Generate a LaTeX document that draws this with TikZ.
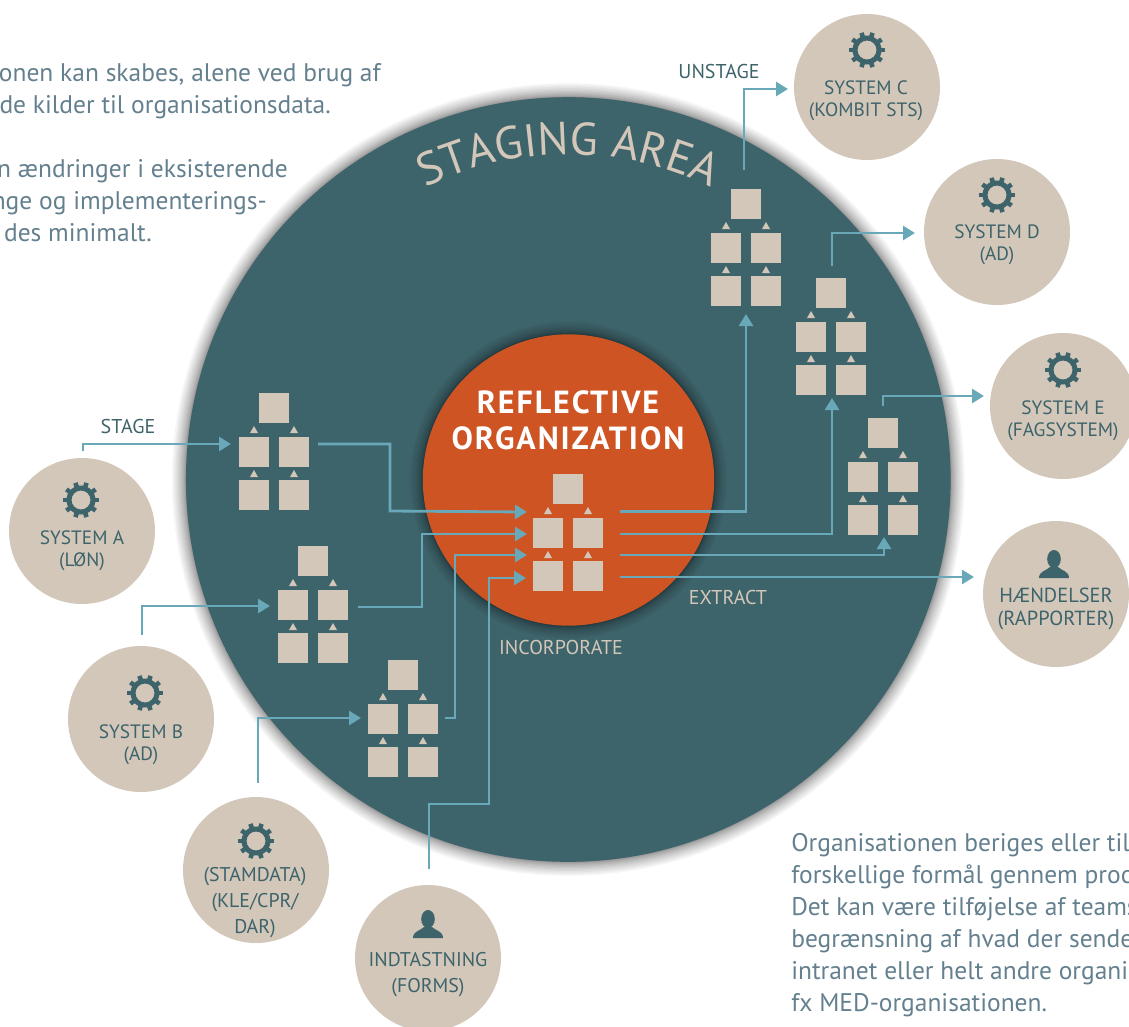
\documentclass[tikz,border=0pt]{standalone}
\usepackage{fontspec}
\setmainfont{PT Sans}
\usetikzlibrary{arrows.meta,decorations.text}
\definecolor{stagecol}{HTML}{3D636B}
\definecolor{orgcol}{HTML}{CE5423}
\definecolor{sandcol}{HTML}{D3C7B9}
\definecolor{flowcol}{HTML}{69A8B8}
\definecolor{bodycol}{HTML}{64808F}
\tikzset{
  box node/.style={rectangle,fill=sandcol,minimum size=22.5pt,inner sep=0pt},
  sys node/.style={circle,fill=sandcol,minimum size=109.5pt,inner sep=0pt},
  sys text/.style={align=center,text=stagecol,font=\fontsize{14.5}{16.5}\selectfont},
  big text/.style={align=center,text=stagecol,font=\fontsize{14.9}{19.5}\selectfont},
  flow label/.style={font=\fontsize{15}{17}\selectfont},
  body text/.style={text=bodycol,inner sep=0pt,font=\fontsize{19.1}{24}\selectfont},
  flow/.style={draw=flowcol,line width=2.1pt,-{Triangle[length=9pt,width=10.5pt]}},
  orgtree/.pic={
    \node[box node] (-top) at (0,0) {};
    \node[box node] (-a) at (-20,44) {};
    \node[box node] (-b) at (20,44) {};
    \node[box node] (-c) at (-20,87) {};
    \node[box node] (-d) at (20,87) {};
    \foreach \tx in {-20,20} \foreach \ty in {18,62}
      \fill[sandcol] (\tx,\ty) -- ++(4,7) -- ++(-8,0) -- cycle;
  },
  gear/.pic={
    \fill[stagecol,even odd rule] (0,0) circle[radius=14.5] (0,0) circle[radius=9.5];
    \foreach \ga in {0,36,...,324}
      \draw[stagecol,line width=3.4pt] (\ga:12) -- (\ga:18);
  },
  person/.pic={
    \fill[stagecol] (0,-9) ellipse[x radius=6.8,y radius=9];
    \fill[stagecol] (-15,10) .. controls (-15,3) and (-8,3) .. (-4,-1) -- (4,-1)
      .. controls (8,3) and (15,3) .. (15,10) -- cycle;
  }
}

\begin{document}
\begin{tikzpicture}[x=0.75pt,y=-0.75pt]
  \useasboundingbox (0,0) rectangle (1129,1026);

  % left and right texts, cut by the page
  \node[body text,anchor=base east] (textl1) at (381,81) {onen kan skabes, alene ved brug af};
  \node[body text,anchor=base east] (textl2) at (331,113) {de kilder til organisationsdata.};
  \node[body text,anchor=base east] (textl3) at (288,177) {n ændringer i eksisterende};
  \node[body text,anchor=base east] (textl4) at (267,209) {nge og implementerings-};
  \node[body text,anchor=base east] (textl5) at (152,241) {des minimalt.};

  \node[body text,anchor=base west] (textr1) at (791,851) {Organisationen beriges eller til};
  \node[body text,anchor=base west] (textr2) at (791,883) {forskellige formål gennem proc};
  \node[body text,anchor=base west] (textr3) at (791,915) {Det kan være tilføjelse af teams};
  \node[body text,anchor=base west] (textr4) at (791,947) {begrænsning af hvad der sende};
  \node[body text,anchor=base west] (textr5) at (791,979) {intranet eller helt andre organi};
  \node[body text,anchor=base west] (textr6) at (791,1011) {fx MED-organisationen.};

  % the two big circles
  \foreach \g in {1,...,16}
    \fill[black,opacity=.04] (568.3,479.5) circle[radius=382+\g*\g/18];
  \node[circle,fill=stagecol,minimum size=573.5pt,inner sep=0pt] (stage) at (568.3,479.5) {};
  \path[decorate,decoration={text along path,text align=center,
      text={|\fontsize{34.5}{36}\selectfont\color{sandcol}|STAGING AREA}}]
    ([shift={(207:325)}]stage.center) arc[start angle=207,end angle=333,radius=325];
  \foreach \g in {1,...,14}
    \fill[black,opacity=.03] (568.5,480) circle[radius=146+\g*\g/16];
  \node[circle,fill=orgcol,minimum size=218.5pt,inner sep=0pt] (org) at (568.5,480) {};
  \node[align=center,text=white,font=\fontsize{24}{27}\selectfont\bfseries\addfontfeatures{LetterSpace=6}]
    (orgtext) at (568,420) {REFLECTIVE\\ORGANIZATION};

  % trees
  \pic (treeorg) at (568,489) {orgtree};
  \pic (treea) at (274,408) {orgtree};
  \pic (treeb) at (313,561) {orgtree};
  \pic (trees) at (403,675) {orgtree};
  \pic (treec) at (746,204) {orgtree};
  \pic (treed) at (831,293) {orgtree};
  \pic (treee) at (883,433) {orgtree};

  % systems
  \node[sys node] (sysa) at (82,531) {};
  \node[sys node] (sysb) at (141,719) {};
  \node[sys node] (syss) at (256,870) {};
  \node[sys node] (sysf) at (428,958) {};
  \node[sys node] (sysc) at (867,87) {};
  \node[sys node] (sysd) at (997,232) {};
  \node[sys node] (syse) at (1063,406) {};
  \node[sys node] (sysh) at (1056,594) {};

  \pic at (81,500) {gear};
  \pic at (145,693) {gear};
  \pic at (256,841) {gear};
  \pic at (867,50) {gear};
  \pic at (997,195) {gear};
  \pic at (1063,370) {gear};
  \pic at (428,928) {person};
  \pic at (1054,568) {person};

  \node[sys text] (sysatext) at (82,551) {SYSTEM A\\(LØN)};
  \node[sys text] (sysbtext) at (141,745) {SYSTEM B\\(AD)};
  \node[big text] (sysstext) at (255,903) {(STAMDATA)\\(KLE/CPR/\\DAR)};
  \node[big text] (sysftext) at (428,975) {INDTASTNING\\(FORMS)};
  \node[sys text] (sysctext) at (866,101) {SYSTEM C\\(KOMBIT STS)};
  \node[sys text] (sysdtext) at (997,245) {SYSTEM D\\(AD)};
  \node[sys text] (sysetext) at (1063,421) {SYSTEM E\\(FAGSYSTEM)};
  \node[big text,font=\fontsize{15.3}{17}\selectfont] (syshtext) at (1056,609) {HÆNDELSER\\(RAPPORTER)};

  % free ends of the connectors
  \coordinate (aout) at (83,451);
  \coordinate (ain) at (231,444);
  \coordinate (bout) at (142,635);
  \coordinate (bin) at (270,606);
  \coordinate (sout) at (258,783);
  \coordinate (sin) at (361,718);
  \coordinate (fout) at (429,869);
  \coordinate (tain) at (318,444);
  \coordinate (tbin) at (358,607);
  \coordinate (tsin) at (445,718);
  \coordinate (oa) at (527,512);
  \coordinate (ob) at (527,534);
  \coordinate (oc) at (527,555);
  \coordinate (od) at (526,578);
  \coordinate (xc) at (620,511.5);
  \coordinate (xd) at (620,534);
  \coordinate (xe) at (620,555);
  \coordinate (xh) at (620,577);
  \coordinate (tc) at (746,314);
  \coordinate (td) at (832,398);
  \coordinate (te) at (884,537);
  \coordinate (hin) at (974,577);
  \coordinate (cout) at (744,170);
  \coordinate (cin) at (788,89);
  \coordinate (dout) at (832,266);
  \coordinate (din) at (915,233);
  \coordinate (eout) at (883,406);
  \coordinate (ein) at (984,396);

  \draw[flow] (aout) |- (ain);
  \draw[flow] (bout) |- (bin);
  \draw[flow] (sout) |- (sin);
  \draw[flow] (tain) -- (390,444) -- (390,511) -- (oa);
  \draw[flow] (tbin) -- (422,607) -- (422,534) -- (ob);
  \draw[flow] (tsin) -- (455,718) -- (455,555) -- (oc);
  \draw[flow] (fout) -- (429,804) -- (489,804) -- (489,578) -- (od);
  \draw[flow] (xc) -| (tc);
  \draw[flow] (xd) -| (td);
  \draw[flow] (xe) -| (te);
  \draw[flow] (xh) -- (hin);
  \draw[flow] (cout) |- (cin);
  \draw[flow] (dout) |- (din);
  \draw[flow] (eout) |- (ein);

  \node[flow label,text=stagecol] (stagelab) at (128,426) {STAGE};
  \node[flow label,text=stagecol] (unstagelab) at (719,71) {UNSTAGE};
  \node[flow label,text=sandcol] (extractlab) at (728,597) {EXTRACT};
  \node[flow label,text=sandcol] (incorplab) at (561,647) {INCORPORATE};
\end{tikzpicture}
\end{document}
